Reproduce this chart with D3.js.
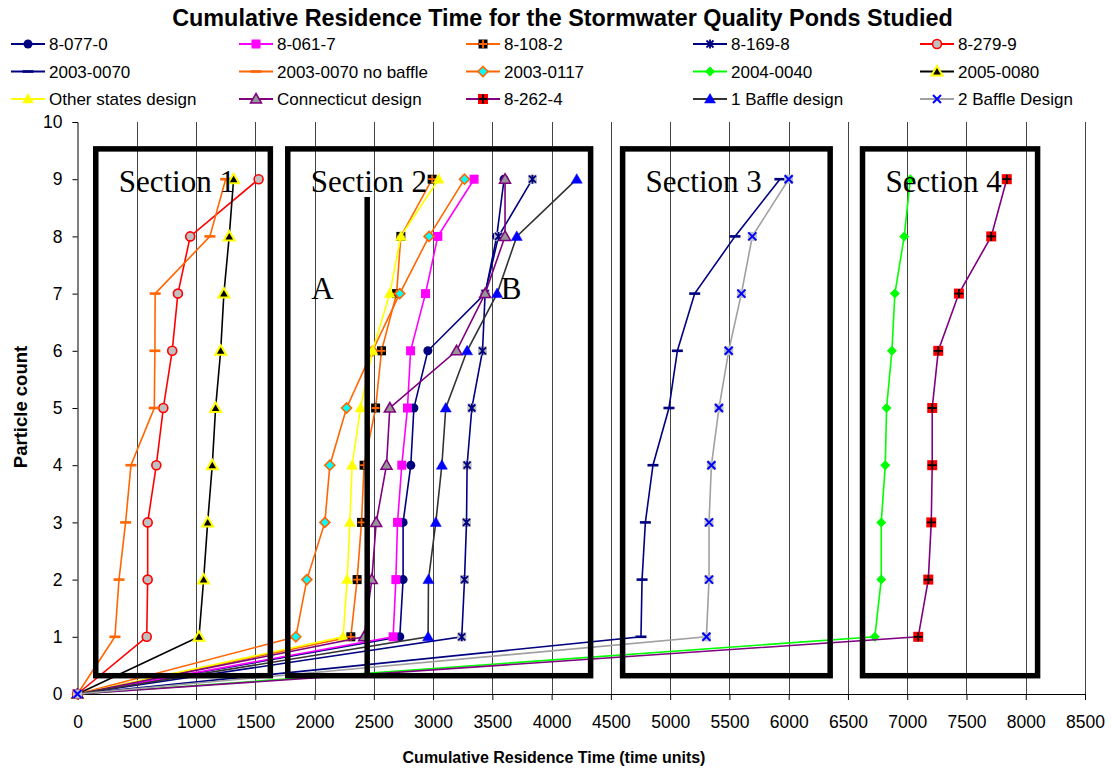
<!DOCTYPE html>
<html><head><meta charset="utf-8">
<script src="https://cdn.jsdelivr.net/npm/d3@7/dist/d3.min.js"></script>
<style>body{margin:0;background:#fff}</style>
</head><body>
<svg id="c" width="1111" height="769"></svg>
<script>
// ---------- DATA ----------
const particleCounts = [0, 1, 2, 3, 4, 5, 6, 7, 8, 9];
const xTickValues = [0, 500, 1000, 1500, 2000, 2500, 3000, 3500, 4000, 4500, 5000, 5500, 6000, 6500, 7000, 7500, 8000, 8500];
const yTickValues = [0, 1, 2, 3, 4, 5, 6, 7, 8, 9, 10];
const seriesNames = ["8-077-0", "8-061-7", "8-108-2", "8-169-8", "8-279-9",
  "2003-0070", "2003-0070 no baffle", "2003-0117", "2004-0040", "2005-0080",
  "Other states design", "Connecticut design", "8-262-4", "1 Baffle design", "2 Baffle Design"];
const s8_077_0  = [0, 2719, 2747, 2747, 2812, 2838, 2956, 3439, 3537, 3599];
const s8_061_7  = [0, 2663, 2686, 2700, 2736, 2784, 2810, 2936, 3040, 3346];
const s8_108_2  = [0, 2306, 2359, 2396, 2418, 2515, 2565, 2692, 2728, 2992];
const s8_169_8  = [0, 3242, 3265, 3282, 3287, 3327, 3417, 3439, 3552, 3838];
const s8_279_9  = [0, 584, 592, 592, 665, 724, 799, 847, 951, 1528];
const s2003_0070 = [0, 4754, 4763, 4791, 4855, 4990, 5061, 5207, 5547, 5926];
const s2003_0070nb = [0, 316, 350, 406, 451, 648, 653, 655, 1117, 1250];
const s2003_0117 = [0, 1842, 1935, 2087, 2129, 2270, 2489, 2719, 2966, 3265];
const s2004_0040 = [0, 6727, 6781, 6781, 6815, 6826, 6871, 6896, 6975, 7026];
const s2005_0080 = [0, 1025, 1064, 1098, 1137, 1165, 1208, 1235, 1280, 1317];
const sOtherStates = [0, 2241, 2275, 2298, 2317, 2388, 2489, 2635, 2728, 3046];
const sConnecticut = [0, 2418, 2483, 2520, 2607, 2635, 3198, 3439, 3607, 3607];
const s8_262_4  = [0, 7093, 7178, 7203, 7211, 7211, 7262, 7436, 7709, 7840];
const s1Baffle  = [0, 2958, 2961, 3023, 3074, 3107, 3287, 3540, 3706, 4212];
const s2Baffle  = [0, 5306, 5328, 5328, 5348, 5412, 5494, 5601, 5693, 6000];
const seriesValues = [s8_077_0, s8_061_7, s8_108_2, s8_169_8, s8_279_9, s2003_0070, s2003_0070nb,
  s2003_0117, s2004_0040, s2005_0080, sOtherStates, sConnecticut, s8_262_4, s1Baffle, s2Baffle];
// annotation boxes in data units: [x0, x1, y0, y1]
const sectionLabels = ["Section 1", "Section 2", "Section 3", "Section 4"];
const sectionBoxes = [[154, 1627, 0.32, 9.53], [1774, 4329, 0.32, 9.53], [4599, 6350, 0.32, 9.53], [6623, 8100, 0.32, 9.53]];
const dividerLine = [2444, 0.32, 8.69];
const letterLabels = [["A", 1972, 6.9], ["B", 3570, 6.9]];

// ---------- STYLES ----------
const lineColors = ["#000080", "#FF00FF", "#FF6600", "#000080", "#FF0000", "#000080", "#FF6600", "#FF6600",
  "#00FF00", "#000000", "#FFFF00", "#800080", "#800080", "#333333", "#A0A0A0"];
const markerTypes = ["circleNavy", "squareMagenta", "squarePlusOrange", "starNavy", "circleRedGrey", "dashNavy",
  "dashOrange", "diamondCyan", "diamondGreen", "triBlackYellow", "triYellow", "triGreyPurple", "squarePlusRed", "triBlue", "xBlue"];

const svg = d3.select("#c");
const x = d3.scaleLinear().domain([0, 8500]).range([77.5, 1085]);
const y = d3.scaleLinear().domain([0, 10]).range([694, 122]);
const SANS = "'Liberation Sans', Arial, sans-serif";
const SERIF = "'Liberation Serif', 'Times New Roman', serif";

function tri(g, cx, cy, fill, stroke, sw) {
  g.append("path").attr("d", `M${cx},${cy - 5.5}L${cx + 5.5},${cy + 4}L${cx - 5.5},${cy + 4}Z`)
    .attr("fill", fill).attr("stroke", stroke).attr("stroke-width", sw);
}
function plus(g, cx, cy, color, r, sw) {
  g.append("path").attr("d", `M${cx - r},${cy}H${cx + r}M${cx},${cy - r}V${cy + r}`)
    .attr("stroke", color).attr("stroke-width", sw).attr("fill", "none");
}
function drawMarker(g, type, cx, cy, legend) {
  switch (type) {
    case "circleNavy": g.append("circle").attr("cx", cx).attr("cy", cy).attr("r", 4.5).attr("fill", "#000080"); break;
    case "squareMagenta": g.append("rect").attr("x", cx - 4.5).attr("y", cy - 4.5).attr("width", 9).attr("height", 9).attr("fill", "#FF00FF"); break;
    case "squarePlusOrange":
      g.append("rect").attr("x", cx - 4.5).attr("y", cy - 4.5).attr("width", 9).attr("height", 9).attr("fill", "#000");
      plus(g, cx, cy, "#FF6600", 4, 1.8); break;
    case "starNavy":
      if (!legend) g.append("rect").attr("x", cx - 4.5).attr("y", cy - 4.5).attr("width", 9).attr("height", 9).attr("fill", "#C0C0C0");
      g.append("path").attr("d", `M${cx - 3.5},${cy - 3.5}L${cx + 3.5},${cy + 3.5}M${cx - 3.5},${cy + 3.5}L${cx + 3.5},${cy - 3.5}M${cx},${cy - 4.5}V${cy + 4.5}`)
        .attr("stroke", "#000080").attr("stroke-width", 1.8); break;
    case "circleRedGrey": g.append("circle").attr("cx", cx).attr("cy", cy).attr("r", 4.5).attr("fill", "#C0C0C0").attr("stroke", "#FF0000").attr("stroke-width", 1.6); break;
    case "dashNavy": g.append("rect").attr("x", cx - 5.5).attr("y", cy - 1.3).attr("width", 11).attr("height", 2.6).attr("fill", "#000080"); break;
    case "dashOrange": g.append("rect").attr("x", cx - 5.5).attr("y", cy - 1.3).attr("width", 11).attr("height", 2.6).attr("fill", "#FF6600"); break;
    case "diamondCyan": g.append("path").attr("d", `M${cx},${cy - 5}L${cx + 5},${cy}L${cx},${cy + 5}L${cx - 5},${cy}Z`).attr("fill", "#00FFFF").attr("stroke", "#FF6600").attr("stroke-width", 1.6); break;
    case "diamondGreen": g.append("path").attr("d", `M${cx},${cy - 5}L${cx + 5},${cy}L${cx},${cy + 5}L${cx - 5},${cy}Z`).attr("fill", "#00FF00"); break;
    case "triBlackYellow": tri(g, cx, cy, "#000", "#FFFF00", 2); break;
    case "triYellow": tri(g, cx, cy, "#FFFF00", "#FFFF00", 0.5); break;
    case "triGreyPurple": tri(g, cx, cy, "#969696", "#800080", 1.5); break;
    case "squarePlusRed":
      g.append("rect").attr("x", cx - 5).attr("y", cy - 5).attr("width", 10).attr("height", 10).attr("fill", "#FF0000");
      plus(g, cx, cy, "#000", 4.5, 1.8); break;
    case "triBlue": tri(g, cx, cy, "#0000FF", "#0000FF", 0.5); break;
    case "xBlue":
      if (!legend) g.append("rect").attr("x", cx - 4.5).attr("y", cy - 4.5).attr("width", 9).attr("height", 9).attr("fill", "#C0C0C0");
      g.append("path").attr("d", `M${cx - 4},${cy - 4}L${cx + 4},${cy + 4}M${cx - 4},${cy + 4}L${cx + 4},${cy - 4}`)
        .attr("stroke", "#0000FF").attr("stroke-width", 2); break;
  }
}

// ---------- TITLE ----------
svg.append("text").attr("x", 562.5).attr("y", 26).attr("text-anchor", "middle")
  .attr("font-family", SANS).attr("font-weight", "bold").attr("font-size", 23.4)
  .text("Cumulative Residence Time for the Stormwater Quality Ponds Studied");

// ---------- LEGEND ----------
const legendColX = [11, 239, 466, 693, 920];
const legendRowY = [44, 71.5, 99];
const lg = svg.append("g");
seriesNames.forEach((name, i) => {
  const lx = legendColX[i % 5], ly = legendRowY[Math.floor(i / 5)];
  lg.append("line").attr("x1", lx).attr("x2", lx + 34).attr("y1", ly).attr("y2", ly)
    .attr("stroke", lineColors[i]).attr("stroke-width", 2);
  drawMarker(lg, markerTypes[i], lx + 17, ly, true);
  lg.append("text").attr("x", lx + 38).attr("y", ly + 6).attr("font-family", SANS).attr("font-size", 17).text(name);
});

// ---------- GRID & AXES ----------
svg.append("g").selectAll("line").data(xTickValues.filter(d => d > 0)).join("line")
  .attr("x1", d => Math.round(x(d)) + 0.5).attr("x2", d => Math.round(x(d)) + 0.5)
  .attr("y1", y(10)).attr("y2", y(0)).attr("stroke", "#444").attr("stroke-width", 1);

const xAxis = svg.append("g").attr("transform", `translate(0,${y(0)})`)
  .call(d3.axisBottom(x).tickValues(xTickValues).tickSize(6).tickPadding(16).tickFormat(d3.format("d")));
const yAxis = svg.append("g").attr("transform", `translate(${x(0)},0)`)
  .call(d3.axisLeft(y).tickValues(yTickValues).tickSize(5).tickPadding(10).tickFormat(d3.format("d")));
[xAxis, yAxis].forEach(a => {
  a.selectAll("text").attr("font-family", SANS).attr("font-size", 17.5).attr("fill", "#000");
  a.selectAll("line,path").attr("stroke", "#000");
});

svg.append("text").attr("x", 554).attr("y", 763).attr("text-anchor", "middle")
  .attr("font-family", SANS).attr("font-weight", "bold").attr("font-size", 16)
  .text("Cumulative Residence Time (time units)");
svg.append("text").attr("transform", "translate(27,407) rotate(-90)").attr("text-anchor", "middle")
  .attr("font-family", SANS).attr("font-weight", "bold").attr("font-size", 18.5)
  .text("Particle count");

// ---------- SERIES ----------
const line = d3.line().x(d => x(d[0])).y(d => y(d[1]));
const sg = svg.append("g");
seriesValues.forEach((vals, i) => {
  const pts = vals.map((v, k) => [v, particleCounts[k]]);
  sg.append("path").attr("d", line(pts)).attr("fill", "none")
    .attr("stroke", lineColors[i]).attr("stroke-width", 1.6);
  pts.forEach(p => drawMarker(sg, markerTypes[i], x(p[0]), y(p[1]), false));
});

// ---------- ANNOTATIONS ----------
const ag = svg.append("g");
sectionBoxes.forEach((b, i) => {
  ag.append("rect").attr("x", x(b[0])).attr("y", y(b[3])).attr("width", x(b[1]) - x(b[0])).attr("height", y(b[2]) - y(b[3]))
    .attr("fill", "none").attr("stroke", "#000").attr("stroke-width", 5.5);
  ag.append("text").attr("x", x(b[0]) + 23).attr("y", 192).attr("font-family", SERIF).attr("font-size", 31).text(sectionLabels[i]);
});
ag.append("line").attr("x1", x(dividerLine[0])).attr("x2", x(dividerLine[0]))
  .attr("y1", y(dividerLine[1])).attr("y2", y(dividerLine[2])).attr("stroke", "#000").attr("stroke-width", 5.5);
letterLabels.forEach(l => {
  ag.append("text").attr("x", x(l[1])).attr("y", y(l[2])).attr("font-family", SERIF).attr("font-size", 31).text(l[0]);
});
</script>
</body></html>
